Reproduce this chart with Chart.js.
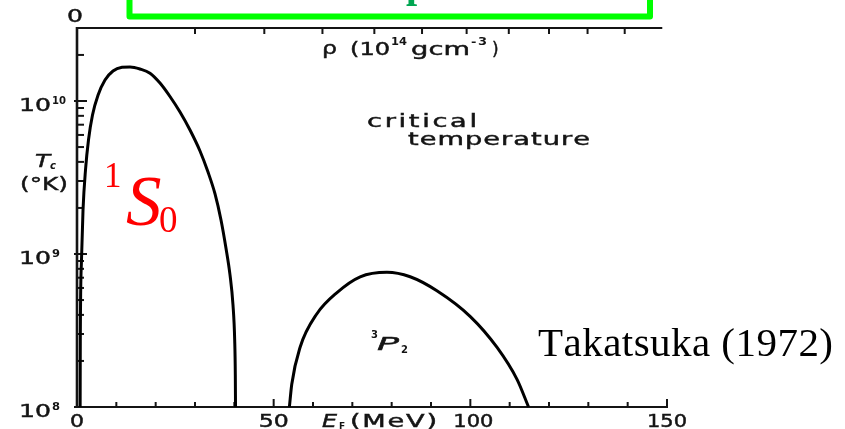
<!DOCTYPE html>
<html>
<head>
<meta charset="utf-8">
<script src="https://cdn.jsdelivr.net/npm/chart.js@4/dist/chart.umd.min.js"></script>
<style>
  html, body { margin: 0; padding: 0; background: #fff; }
  canvas { display: block; }
</style>
</head>
<body>
<canvas id="c" width="845" height="429"></canvas>
<script>
// Critical temperature Tc (K) versus neutron Fermi energy E_F (MeV)
// 1S0 pairing (low density) and 3P2 pairing (higher density)
const eF_1S0 = [0.8, 0.84, 1.14, 1.53, 2.16, 2.92, 3.94, 5.34, 7.12, 9.15, 11.44, 13.5, 16.0, 18.56, 21.1, 23.64, 26.19, 28.73, 31.27, 33.31, 35.09, 36.61, 37.88, 38.9, 39.66, 40.09, 40.25, 40.3];
const tc_1S0 = [1.0e8, 2.74e8, 9.1e8, 1.94e9, 3.54e9, 5.56e9, 8.1e9, 1.09e10, 1.37e10, 1.57e10, 1.66e10, 1.67e10, 1.62e10, 1.52e10, 1.31e10, 1.07e10, 8.47e9, 6.46e9, 4.71e9, 3.43e9, 2.47e9, 1.67e9, 1.09e9, 7.3e8, 4.64e8, 2.74e8, 1.62e8, 1.0e8];

const eF_3P2 = [54.0, 54.6, 56.7, 61.0, 66.1, 72.0, 78.8, 84.7, 91.5, 100.0, 106.8, 111.9, 114.8];
const tc_3P2 = [1.0e8, 1.41e8, 2.45e8, 4.07e8, 5.6e8, 7.1e8, 7.6e8, 7.1e8, 5.75e8, 3.9e8, 2.45e8, 1.51e8, 1.0e8];

// Axis ticks
const xTickLabels = [0, 50, 100, 150];      // E_F (MeV), labelled
const xMinorStep = 10;                        // E_F minor tick spacing
const yDecades = [8, 9, 10];                  // Tc = 10^n K, labelled
const rhoTicks = [1, 2, 3, 4, 5, 6, 7, 8, 9, 10]; // density, 10^14 g/cm^3
const eFatUnitRho = 30.0;                     // E_F (MeV) at rho = 1e14 g/cm^3, E_F ~ rho^(2/3)

const X_MIN = 0, X_MAX = 150, Y_MIN = 1e8, Y_MAX = 3e10;
const INK = '#141414';
const SANS = '"DejaVu Sans"';
const SERIF = '"Liberation Serif", "Times New Roman", serif';

// Lettering: glyphs widened by sx and spread so the word spans width w from x
function spread(ctx, s, font, x, y, w, sx, color, weight) {
  const sw = weight === undefined ? 0.45 : weight;
  ctx.save();
  ctx.font = font;
  ctx.fillStyle = color || INK;
  ctx.strokeStyle = color || INK;
  if (sw > 0) ctx.lineWidth = sw;
  ctx.textAlign = 'left';
  ctx.textBaseline = 'alphabetic';
  const chars = [...s];
  const natural = chars.map(c => ctx.measureText(c).width);
  const sum = natural.reduce((a, b) => a + b, 0);
  if (chars.length === 1 || sum * sx > w) sx = w / sum;
  const gap = chars.length > 1 ? (w - sum * sx) / (chars.length - 1) : 0;
  let cx = x;
  chars.forEach((c, i) => {
    ctx.save();
    ctx.translate(cx, y); ctx.scale(sx, 1);
    ctx.fillText(c, 0, 0);
    if (sw > 0) ctx.strokeText(c, 0, 0);
    ctx.restore();
    cx += natural[i] * sx + gap;
  });
  ctx.restore();
}

function plain(ctx, s, font, x, y, color, weight) {
  ctx.save();
  ctx.font = font;
  ctx.fillStyle = color || INK;
  ctx.strokeStyle = color || INK;
  ctx.textAlign = 'left';
  ctx.textBaseline = 'alphabetic';
  ctx.fillText(s, x, y);
  if (weight) { ctx.lineWidth = weight; ctx.strokeText(s, x, y); }
  ctx.restore();
}

function seg(ctx, x1, y1, x2, y2) {
  ctx.beginPath(); ctx.moveTo(x1, y1); ctx.lineTo(x2, y2); ctx.stroke();
}

const frame = {
  id: 'frame',
  beforeDatasetsDraw(chart) {
    const ctx = chart.ctx;
    const X = v => chart.scales.x.getPixelForValue(v);
    const Y = v => chart.scales.y.getPixelForValue(v);
    const x0 = X(X_MIN), yb = Y(Y_MIN), yt = Y(Y_MAX);
    ctx.save();
    ctx.strokeStyle = INK;
    ctx.lineCap = 'butt';
    ctx.lineWidth = 2.6;
    seg(ctx, x0, yt - 1, x0, yb + 1);
    ctx.lineWidth = 2.2;
    seg(ctx, x0, yb, X(X_MAX) + 1, yb);
    seg(ctx, x0, yt, X(X_MAX - 1.2), yt);

    // Tc ticks, inside
    ctx.lineWidth = 2;
    for (let e = yDecades[0]; e <= yDecades[yDecades.length - 1]; e++) {
      for (let m = 1; m <= 9; m++) {
        const v = m * Math.pow(10, e);
        if (v >= Y_MAX) break;
        const yy = Y(v);
        seg(ctx, x0 - (m === 1 ? 3 : 0), yy, x0 + (m === 1 ? 10 : 7), yy);
      }
    }
    // E_F ticks, inside
    for (let v = X_MIN + xMinorStep; v <= X_MAX; v += xMinorStep) {
      const xx = X(v);
      seg(ctx, xx, yb, xx, yb - (v % 50 === 0 ? 8 : 5));
    }
    // density ticks on the top axis
    rhoTicks.forEach(r => {
      const xx = X(eFatUnitRho * Math.cbrt(r * r));
      seg(ctx, xx, yt, xx, yt + 6);
    });
    ctx.restore();
  },
  afterDraw(chart) {
    const ctx = chart.ctx;
    const X = v => chart.scales.x.getPixelForValue(v);
    const Y = v => chart.scales.y.getPixelForValue(v);
    const yb = Y(Y_MIN);

    // Tc decade labels 10^n
    yDecades.forEach(e => {
      const yy = Y(Math.pow(10, e));
      const exp = String(e);
      spread(ctx, '10', '18px ' + SANS, 19, yy + 10, 32, 1.4);
      spread(ctx, exp, 'bold 10px ' + SANS, 52, yy + 3, exp.length > 1 ? 14 : 8, 1.3, INK, 0);
    });
    // T_c (°K)
    spread(ctx, 'T', 'italic 17px ' + SANS, 35, 167, 15, 1.3);
    plain(ctx, 'c', 'italic bold 10px ' + SANS, 50, 169);
    spread(ctx, '(°K)', '17px ' + SANS, 20, 190, 48, 1.6);

    // E_F labels
    xTickLabels.forEach(v => {
      const s = String(v);
      const w = s.length === 1 ? 14 : (s.length === 2 ? 30 : 40);
      spread(ctx, s, '17px ' + SANS, X(v) - w / 2 + (v === 100 ? 3 : 0), yb + 20, w, 1.6);
    });
    spread(ctx, 'E', 'italic 17px ' + SANS, 322, yb + 20, 15, 1.3);
    plain(ctx, 'F', 'bold 9px ' + SANS, 339, yb + 22);
    spread(ctx, '(MeV)', '17px ' + SANS, 350, yb + 20, 87, 1.6);

    // top axis: density
    spread(ctx, '0', '18px ' + SANS, 67, 22, 16, 1.3);
    spread(ctx, 'ρ', '18px ' + SANS, 322, 54, 15, 1.3);
    spread(ctx, '(10', '17px ' + SANS, 350, 55, 40, 1.6);
    spread(ctx, '14', 'bold 10px ' + SANS, 391, 45, 16, 1.3, INK, 0);
    spread(ctx, 'gcm', '17px ' + SANS, 411, 55, 59, 1.6);
    spread(ctx, '-3', 'bold 10px ' + SANS, 471, 45, 16, 1.3, INK, 0);
    plain(ctx, ')', '17px ' + SANS, 492, 55, INK, 0.45);

    // annotations
    spread(ctx, 'critical', '17px ' + SANS, 367, 127, 110, 1.6);
    spread(ctx, 'temperature', '17px ' + SANS, 408, 145, 182, 1.6);

    plain(ctx, '3', 'bold 10px ' + SANS, 371, 338);
    spread(ctx, 'P', 'italic 18px ' + SANS, 377, 350, 22, 1.6);
    plain(ctx, '2', 'bold 10px ' + SANS, 401, 353);

    plain(ctx, '1', '35px ' + SERIF, 104, 187, '#ff0000');
    plain(ctx, 'S', 'italic 71px ' + SERIF, 126, 225, '#ff0000');
    plain(ctx, '0', '37px ' + SERIF, 159, 232, '#ff0000');

    spread(ctx, 'Takatsuka (1972)', '41px ' + SERIF, 538, 356, 295, 1.0, '#000', 0);

    // title frame at the top edge
    ctx.save();
    plain(ctx, 'p', 'bold 40px ' + SERIF, 406, -3, '#00a651');
    ctx.strokeStyle = '#00ff00';
    ctx.lineWidth = 6;
    ctx.lineJoin = 'round';
    ctx.strokeRect(129.5, -20, 520.5, 36.5);
    ctx.restore();
  }
};

const toPoints = (xs, ys) => xs.map((x, i) => ({ x, y: ys[i] }));
const curve = (label, xs, ys) => ({
  label, data: toPoints(xs, ys),
  borderColor: '#000', borderWidth: 3, pointRadius: 0,
  cubicInterpolationMode: 'monotone', fill: false, clip: false,
  borderJoinStyle: 'round', borderCapStyle: 'butt'
});

new Chart(document.getElementById('c'), {
  type: 'line',
  data: {
    datasets: [
      curve('1S0', eF_1S0, tc_1S0),
      curve('3P2', eF_3P2, tc_3P2)
    ]
  },
  options: {
    responsive: false,
    animation: false,
    devicePixelRatio: 1,
    layout: { padding: { left: 77, right: 178, top: 28, bottom: 22 } },
    plugins: { legend: { display: false }, tooltip: { enabled: false } },
    scales: {
      x: { type: 'linear', min: X_MIN, max: X_MAX, display: false },
      y: { type: 'logarithmic', min: Y_MIN, max: Y_MAX, display: false }
    }
  },
  plugins: [frame]
});
</script>
</body>
</html>
